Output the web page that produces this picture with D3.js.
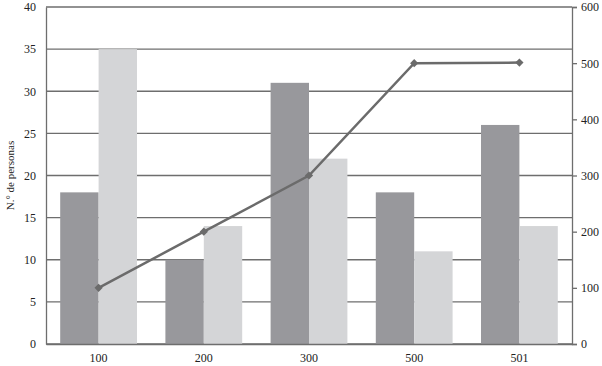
<!DOCTYPE html>
<html>
<head>
<meta charset="utf-8">
<script src="https://cdn.jsdelivr.net/npm/d3@7"></script>
<style>
  body { margin: 0; background: #fff; }
  text { font-family: "Liberation Serif", "Times New Roman", serif; fill: #222; }
</style>
</head>
<body>
<script>
//Data.
var categories = ["100", "200", "300", "500", "501"];
var darkValues = [18, 10, 31, 18, 26];
var lightValues = [35, 14, 22, 11, 14];
var lineValues = [100, 200, 300, 500, 501];
var leftTicks = [0, 5, 10, 15, 20, 25, 30, 35, 40];
var rightTicks = [0, 100, 200, 300, 400, 500, 600];

var width = 602;
var height = 366;
var margin = {top: 7, right: 30, bottom: 22, left: 46};
var innerW = width - margin.left - margin.right;
var innerH = height - margin.top - margin.bottom;

var svg = d3.select("body").append("svg")
  .attr("width", width)
  .attr("height", height);

var g = svg.append("g").attr("transform", "translate(" + margin.left + "," + margin.top + ")");

//Scales
var x = d3.scaleBand().domain(categories).range([0, innerW]).paddingInner(0.27).paddingOuter(0.135);
var xSub = d3.scaleBand().domain([0, 1]).range([0, x.bandwidth()]);
var y = d3.scaleLinear().domain([0, 40]).range([innerH, 0]);
var y2 = d3.scaleLinear().domain([0, 600]).range([innerH, 0]);

//Gridlines
g.selectAll(".grid").data(leftTicks).enter().append("line")
  .attr("x1", 0).attr("x2", innerW)
  .attr("y1", function (d) { return y(d); })
  .attr("y2", function (d) { return y(d); })
  .attr("stroke", "#6e6e6e").attr("stroke-width", 1.3);

//Bars
var groups = g.selectAll(".grp").data(categories).enter().append("g")
  .attr("transform", function (d) { return "translate(" + x(d) + ",0)"; });

groups.append("rect")
  .attr("x", xSub(0)).attr("width", xSub.bandwidth())
  .attr("y", function (d, i) { return y(darkValues[i]); })
  .attr("height", function (d, i) { return innerH - y(darkValues[i]); })
  .attr("fill", "#98989c");

groups.append("rect")
  .attr("x", xSub(1)).attr("width", xSub.bandwidth())
  .attr("y", function (d, i) { return y(lightValues[i]); })
  .attr("height", function (d, i) { return innerH - y(lightValues[i]); })
  .attr("fill", "#d4d5d7");

//Axes
var leftAxis = g.append("g")
  .call(d3.axisLeft(y).tickValues(leftTicks).tickSize(0).tickPadding(10));
leftAxis.select(".domain").attr("stroke", "#6e6e6e").attr("stroke-width", 1.3);
leftAxis.selectAll("text").attr("font-size", 12).attr("font-family", "Liberation Serif");

var rightAxis = g.append("g").attr("transform", "translate(" + innerW + ",0)")
  .call(d3.axisRight(y2).tickValues(rightTicks).tickSizeOuter(0).tickSize(5).tickPadding(4));
rightAxis.select(".domain").attr("stroke", "#6e6e6e").attr("stroke-width", 1.3);
rightAxis.selectAll("line").attr("stroke", "#6e6e6e").attr("stroke-width", 1.3);
rightAxis.selectAll("text").attr("font-size", 12).attr("font-family", "Liberation Serif");

var bottomAxis = g.append("g").attr("transform", "translate(0," + innerH + ")")
  .call(d3.axisBottom(x).tickSize(0).tickPadding(9));
bottomAxis.select(".domain").attr("stroke", "#6e6e6e").attr("stroke-width", 1.3);
bottomAxis.selectAll("text").attr("font-size", 12).attr("font-family", "Liberation Serif");

//Line with diamond markers
var line = d3.line()
  .x(function (d, i) { return x(categories[i]) + x.bandwidth() / 2; })
  .y(function (d) { return y2(d); });

g.append("path").datum(lineValues)
  .attr("d", line)
  .attr("fill", "none")
  .attr("stroke", "#6b6b6b")
  .attr("stroke-width", 2.5);

g.selectAll(".pt").data(lineValues).enter().append("path")
  .attr("d", d3.symbol().type(d3.symbolSquare).size(34))
  .attr("transform", function (d, i) {
    return "translate(" + (x(categories[i]) + x.bandwidth() / 2) + "," + y2(d) + ") rotate(45)";
  })
  .attr("fill", "#6b6b6b");

//Y axis title
svg.append("text")
  .attr("transform", "translate(14," + (margin.top + innerH / 2) + ") rotate(-90)")
  .attr("text-anchor", "middle")
  .attr("font-size", 11)
  .text("N.° de personas");
</script>
</body>
</html>
